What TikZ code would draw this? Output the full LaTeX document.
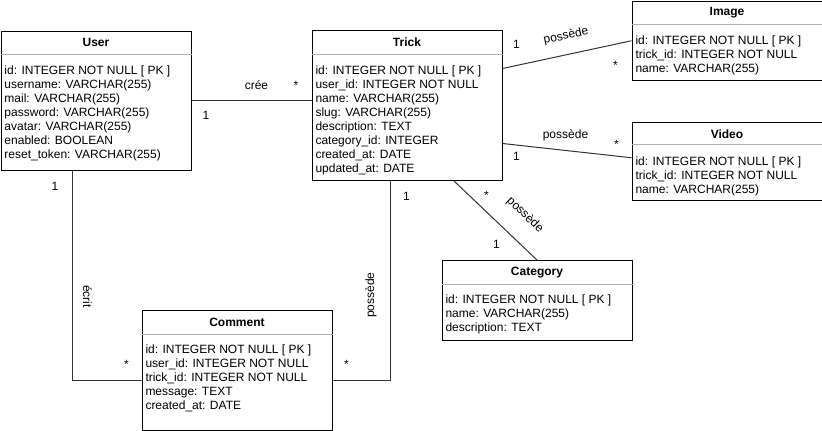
\documentclass[tikz,border=0pt]{standalone}
\usepackage{fontspec}
\setmainfont{Liberation Sans}
\usepackage{tikz}

\begin{document}
\begin{tikzpicture}[x=1pt, y=-1pt, line width=1pt, every node/.style={font=\fontsize{12}{14}\selectfont}]
	\tikzstyle{entity} = [rectangle, draw=black, minimum width=190pt, anchor=north west, inner sep=0]
	\tikzstyle{entity_title} = [anchor=north, minimum height=23.5pt, inner sep=0, font=\fontsize{12}{14}\selectfont\bfseries]
	\tikzstyle{entity_attrs} = [anchor=north west, align=left, inner sep=0]
	\tikzstyle{divider} = [draw=gray!60, line width=0.8pt]
	\tikzstyle{link} = [draw=black!80, line width=1pt]
	\tikzstyle{mult} = [anchor=base, inner sep=0]
	\tikzstyle{link_text} = [inner sep=0]

	\useasboundingbox (0,0) rectangle (822,431);

%------------------------------------------------------------
	\node[entity, minimum height=139.5pt] (user) at (0.5,30.5) {};
	\node[entity_title] (user_title) at (user.north) {User};
	\draw[divider] ([yshift=-23.5pt]user.north west) -- ([yshift=-23.5pt]user.north east);
	\node[entity_attrs] (user_attrs) at ([xshift=3.5pt,yshift=-35pt]user.north west) {id: INTEGER NOT NULL [ PK ]\\username: VARCHAR(255)\\mail: VARCHAR(255)\\password: VARCHAR(255)\\avatar: VARCHAR(255)\\enabled: BOOLEAN\\reset\_token: VARCHAR(255)};

%------------------------------------------------------------
	\node[entity, minimum height=150pt] (trick) at (311.5,30) {};
	\node[entity_title] (trick_title) at (trick.north) {Trick};
	\draw[divider] ([yshift=-24pt]trick.north west) -- ([yshift=-24pt]trick.north east);
	\node[entity_attrs] (trick_attrs) at ([xshift=3.5pt,yshift=-35pt]trick.north west) {id: INTEGER NOT NULL [ PK ]\\user\_id: INTEGER NOT NULL\\name: VARCHAR(255)\\slug: VARCHAR(255)\\description: TEXT\\category\_id: INTEGER\\created\_at: DATE\\updated\_at: DATE};

%------------------------------------------------------------
	\node[entity, minimum height=79.5pt] (image) at (631.5,0.5) {};
	\node[entity_title] (image_title) at (image.north) {Image};
	\draw[divider] ([yshift=-23.5pt]image.north west) -- ([yshift=-23.5pt]image.north east);
	\node[entity_attrs] (image_attrs) at ([xshift=3.5pt,yshift=-34.5pt]image.north west) {id: INTEGER NOT NULL [ PK ]\\trick\_id: INTEGER NOT NULL\\name: VARCHAR(255)};

%------------------------------------------------------------
	\node[entity, minimum height=78.5pt] (video) at (631.5,121.5) {};
	\node[entity_title] (video_title) at (video.north) {Video};
	\draw[divider] ([yshift=-23pt]video.north west) -- ([yshift=-23pt]video.north east);
	\node[entity_attrs] (video_attrs) at ([xshift=3.5pt,yshift=-34.5pt]video.north west) {id: INTEGER NOT NULL [ PK ]\\trick\_id: INTEGER NOT NULL\\name: VARCHAR(255)};

%------------------------------------------------------------
	\node[entity, minimum height=80pt] (category) at (441.5,260) {};
	\node[entity_title] (category_title) at (category.north) {Category};
	\draw[divider] ([yshift=-24pt]category.north west) -- ([yshift=-24pt]category.north east);
	\node[entity_attrs] (category_attrs) at ([xshift=3.5pt,yshift=-34.5pt]category.north west) {id: INTEGER NOT NULL [ PK ]\\name: VARCHAR(255)\\description: TEXT};

%------------------------------------------------------------
	\node[entity, minimum height=120pt] (comment) at (141.5,310) {};
	\node[entity_title] (comment_title) at (comment.north) {Comment};
	\draw[divider] ([yshift=-24pt]comment.north west) -- ([yshift=-24pt]comment.north east);
	\node[entity_attrs] (comment_attrs) at ([xshift=3.5pt,yshift=-34.5pt]comment.north west) {id: INTEGER NOT NULL [ PK ]\\user\_id: INTEGER NOT NULL\\trick\_id: INTEGER NOT NULL\\message: TEXT\\created\_at: DATE};

%------------------------------------------------------------
	\draw[link] (user.east) -- (user.east -| trick.west);
	\draw[link] ([yshift=37pt]trick.east) -- (image.west);
	\draw[link] ([yshift=-38pt]trick.east) -- ([yshift=3.5pt]video.west);
	\draw[link] ([xshift=47pt]trick.south) -- (category.north);
	\draw[link] ([xshift=-23.5pt]user.south) |- ([yshift=-10pt]comment.west);
	\draw[link] ([xshift=-16.5pt]trick.south) |- ([yshift=-10pt]comment.east);

%------------------------------------------------------------
	\node[link_text, anchor=base] (cree) at (256.5,89) {crée};
	\node[mult] (cree_1) at (206,119) {1};
	\node[mult] (cree_n) at (296,89) {*};

	\node[link_text, rotate=12] (has_image) at (566,36) {possède};
	\node[mult] (has_image_1) at (516.5,48) {1};
	\node[mult] (has_image_n) at (615.5,69) {*};

	\node[link_text, anchor=base] (has_video) at (565.5,138.5) {possède};
	\node[mult] (has_video_1) at (516.5,160) {1};
	\node[mult] (has_video_n) at (616.5,148.5) {*};

	\node[link_text, rotate=-44] (has_category) at (525,215) {possède};
	\node[mult] (has_category_n) at (486.5,199.5) {*};
	\node[mult] (has_category_1) at (496.5,248) {1};

	\node[link_text, rotate=-90] (ecrit) at (87.5,296.5) {écrit};
	\node[mult] (ecrit_1) at (55,190) {1};
	\node[mult] (ecrit_n) at (126.5,368.5) {*};

	\node[link_text, rotate=90] (has_comment) at (371,295) {possède};
	\node[mult] (has_comment_1) at (406.5,200) {1};
	\node[mult] (has_comment_n) at (346.5,368.5) {*};

\end{tikzpicture}
\end{document}
